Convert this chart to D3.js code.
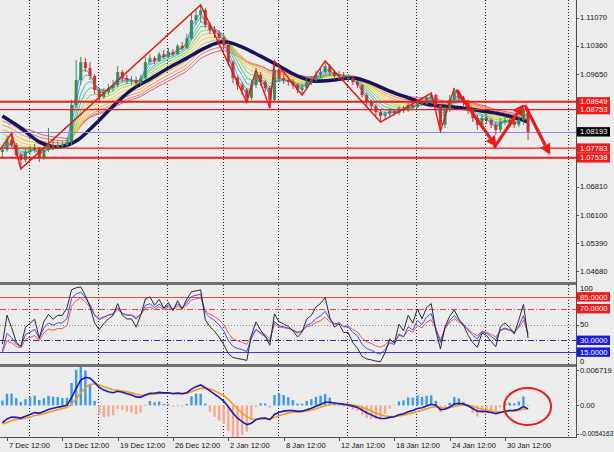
<!DOCTYPE html>
<html><head><meta charset="utf-8">
<script src="https://cdn.jsdelivr.net/npm/d3@7"></script>
<style>
body{margin:0;background:#ececec;}
svg{display:block;font-family:"Liberation Sans",Arial,sans-serif;}
</style>
</head><body>
<svg id="c" width="614" height="452"></svg>
<script>
// ---------------- DATA (8-hour candles, EURUSD, 7 Dec - 1 Feb) ----------------
const priorCloses = [1.0980,1.0990,1.0970,1.0960,1.0930,1.0890,1.0880,1.0870,1.0885,1.0865,1.0845,1.0835,1.0820,1.0800,1.0795,1.0790,1.0775,1.0765,1.0769];
const firstOpen = 1.0769;
const closes = [1.0774,1.0799,1.0786,1.0761,1.0748,1.0769,1.0774,1.0779,1.0753,1.0774,
1.0786,1.0781,1.0786,1.0786,1.0794,1.0887,1.0950,1.0995,1.0980,1.0960,
1.0925,1.0907,1.0920,1.0930,1.0937,1.0970,1.0955,1.0950,1.0950,1.0942,
1.0955,1.0995,1.1005,1.0998,1.1015,1.1008,1.1021,1.1015,1.1036,1.1030,
1.1055,1.1101,1.1114,1.1126,1.1089,1.1076,1.1068,1.1056,1.1038,1.0995,
1.0955,1.0937,1.0925,1.0905,1.0937,1.0963,1.0945,1.0930,1.0900,1.0975,
1.0955,1.0950,1.0945,1.0937,1.0925,1.0930,1.0945,1.0950,1.0963,1.0970,
1.0985,1.0970,1.0960,1.0963,1.0955,1.0955,1.0945,1.0937,1.0912,1.0894,
1.0884,1.0869,1.0859,1.0864,1.0872,1.0866,1.0879,1.0873,1.0887,1.0881,
1.0897,1.0890,1.0905,1.0912,1.0887,1.0837,1.0874,1.0900,1.0920,1.0905,
1.0894,1.0874,1.0854,1.0837,1.0854,1.0849,1.0837,1.0824,1.0844,1.0849,
1.0844,1.0837,1.0849,1.0874,1.0819];
const highs = [1.0786,1.0809,1.0816,1.0791,1.0766,1.0776,1.0784,1.0789,1.0781,1.0779,
1.0829,1.0799,1.0796,1.0796,1.0804,1.0900,1.1000,1.1008,1.1005,1.0995,
1.0965,1.0930,1.0930,1.0940,1.0950,1.0985,1.0975,1.0963,1.0960,1.0958,
1.0963,1.1008,1.1015,1.1010,1.1021,1.1026,1.1031,1.1028,1.1041,1.1046,
1.1066,1.1119,1.1126,1.1139,1.1131,1.1096,1.1086,1.1076,1.1063,1.1046,
1.1000,1.0960,1.0945,1.0930,1.0950,1.0975,1.0970,1.0950,1.0935,1.0998,
1.0980,1.0965,1.0958,1.0952,1.0942,1.0940,1.0955,1.0960,1.0973,1.0980,
1.0998,1.0990,1.0975,1.0973,1.0970,1.0965,1.0960,1.0950,1.0940,1.0917,
1.0900,1.0889,1.0874,1.0872,1.0879,1.0877,1.0884,1.0884,1.0892,1.0894,
1.0902,1.0902,1.0910,1.0917,1.0915,1.0889,1.0884,1.0912,1.0930,1.0925,
1.0910,1.0900,1.0879,1.0862,1.0864,1.0862,1.0854,1.0844,1.0854,1.0859,
1.0857,1.0852,1.0859,1.0887,1.0879];
const lows = [1.0756,1.0769,1.0781,1.0753,1.0726,1.0743,1.0761,1.0766,1.0743,1.0748,
1.0769,1.0774,1.0776,1.0779,1.0781,1.0786,1.0879,1.0937,1.0970,1.0950,
1.0915,1.0894,1.0902,1.0912,1.0922,1.0932,1.0945,1.0940,1.0937,1.0932,
1.0935,1.0950,1.0988,1.0990,1.0995,1.1003,1.1005,1.1010,1.1012,1.1026,
1.1028,1.1050,1.1089,1.1096,1.1081,1.1066,1.1056,1.1046,1.1026,1.0985,
1.0942,1.0925,1.0912,1.0894,1.0900,1.0930,1.0935,1.0920,1.0879,1.0894,
1.0945,1.0940,1.0935,1.0927,1.0917,1.0912,1.0925,1.0937,1.0945,1.0955,
1.0965,1.0960,1.0950,1.0950,1.0947,1.0945,1.0937,1.0930,1.0905,1.0884,
1.0874,1.0859,1.0844,1.0852,1.0859,1.0860,1.0862,1.0867,1.0870,1.0876,
1.0879,1.0885,1.0887,1.0897,1.0874,1.0821,1.0829,1.0869,1.0894,1.0894,
1.0884,1.0864,1.0844,1.0824,1.0831,1.0839,1.0829,1.0811,1.0819,1.0837,
1.0834,1.0829,1.0831,1.0837,1.0799];
// thick dark moving average: [candle index, price]
const slowMA = [[0,1.0859],[4,1.0829],[8,1.0794],[12,1.0781],[16,1.0796],[20,1.0837],[24,1.0884],[28,1.0925],[32,1.0952],[36,1.0980],[40,1.1005],[44,1.1031],[48,1.1046],[52,1.1033],[56,1.1010],[60,1.0985],[64,1.0960],[68,1.0947],[72,1.0950],[76,1.0955],[80,1.0942],[84,1.0922],[88,1.0905],[92,1.0889],[96,1.0884],[100,1.0879],[104,1.0872],[108,1.0864],[112,1.0852],[114,1.0844]];
const rainbowPeriods = [2,3,4.5,6,8,10,12.5,15,18,21,24];
const macdParams = [6,13,5];
const oscPeriods = [4,7,10];
// drawn objects
const zigzag = [[-0.5,1.0774],[2,1.0816],[4,1.0726],[43,1.1139],[53,1.0894],[55,1.0975],[58,1.0879],[59,1.0998],[65,1.0912],[70,1.0998],[82,1.0844],[93,1.0917],[95,1.0821],[98,1.0930]];
const arrowsData = [[[98.4,1.0925],[107.2,1.0781]],[[106.6,1.0779],[113,1.0889]],[[113.3,1.0887],[118.8,1.0761]]];
const redLevels = [1.08949,1.08753,1.07783,1.07538];
const bidPrice = 1.08193;
const ellipseAt = [113.9,-0.0002];
// axes
const priceTicks = [1.11070,1.10360,1.09650,1.06810,1.06100,1.05390,1.04680];
const dateLabels = ["7 Dec 12:00","13 Dec 12:00","19 Dec 12:00","26 Dec 12:00","2 Jan 12:00","8 Jan 12:00","12 Jan 12:00","18 Jan 12:00","24 Jan 12:00","30 Jan 12:00"];
const dateTicksH4 = [0,24,48,72,96,120,144,168,192,216];
const weekSepH4 = [9.5,39.5,69.5,93.5,117.5,147.5,177.5,207.5,243.5];
const oscLevels = [85,70,50,30,15];
const macdTicks = [0.006719,0,-0.0054163];
const macdTickText = ["0.006719","0.00","-0.0054163"];

// ---------------- LAYOUT ----------------
const svg = d3.select('#c');
const PR = 576;
const mainB = 282, oscT = 285, oscB = 364, macT = 367, macB = 437;
const xH = d3.scaleLinear().domain([0,216]).range([7, 7+216*2.3056]);
const xC = j => xH(2*j-2);
const yP = d3.scaleLinear().domain([1.04409,1.11515]).range([mainB,0]);
const yO = d3.scaleLinear().domain([0,100]).range([364,285]);
const yM = d3.scaleLinear().domain([-0.0054163,0.006719]).range([434,370]);

svg.append('rect').attr('width',614).attr('height',452).attr('fill','#ececec');
const defs = svg.append('defs');
function clip(id,y0,y1){defs.append('clipPath').attr('id',id).append('rect').attr('x',0).attr('y',y0).attr('width',PR).attr('height',y1-y0);}
clip('cm',0,mainB); clip('co',oscT,oscB); clip('cd',macT,macB);

// ---------------- indicator math ----------------
const all = priorCloses.concat(closes);
const off = priorCloses.length;
function ema(arr,n){const a=2/(n+1);let e=arr[0];return arr.map((v,i)=>{e=i?e+a*(v-e):v;return e;});}
function rsi(arr,n){let ag=0,al=0;return arr.map((v,i)=>{if(!i)return 50;const d=v-arr[i-1],g=Math.max(d,0),l=Math.max(-d,0);
 if(i<=n){ag+=g/n;al+=l/n;}else{ag=(ag*(n-1)+g)/n;al=(al*(n-1)+l)/n;} return al===0?100:100-100/(1+ag/al);});}

// ---------------- grid (week separators) ----------------
const grid = svg.append('g');
weekSepH4.forEach(h=>{grid.append('line').attr('x1',Math.round(xH(h))+0.5).attr('x2',Math.round(xH(h))+0.5).attr('y1',0).attr('y2',macB)
 .attr('stroke','#222').attr('stroke-dasharray','1,2').attr('stroke-width',1);});

// ---------------- main panel ----------------
const gm = svg.append('g').attr('clip-path','url(#cm)');
const rainbowColors = ['#6f86e6','#52aee8','#3cc4c4','#4ec77e','#8ad252','#c4d83e','#f0cf3c','#f6b13e','#f69352','#ee7468','#e05a7a'];
const lineP = d3.line().x(d=>xC(d[0])).y(d=>yP(d[1]));
for(let k=rainbowPeriods.length-1;k>=0;k--){
  const e = ema(all,rainbowPeriods[k]).slice(off).map((v,j)=>[j,v]);
  gm.append('path').attr('d',lineP(e)).attr('fill','none').attr('stroke',rainbowColors[k]).attr('stroke-width',1);
}
gm.append('path').attr('d',lineP.curve(d3.curveMonotoneX)(slowMA)).attr('fill','none').attr('stroke','#14145e').attr('stroke-width',3.5);
lineP.curve(d3.curveLinear);
// candles
closes.forEach((c,j)=>{
  const o = j?closes[j-1]:firstOpen, x=xC(j);
  const up = c>=o;
  gm.append('line').attr('x1',x).attr('x2',x).attr('y1',yP(highs[j])).attr('y2',yP(lows[j])).attr('stroke',up?'#3c8c5a':'#c0392b').attr('stroke-width',1);
  const y0=yP(Math.max(o,c)), y1=yP(Math.min(o,c));
  gm.append('rect').attr('x',x-1.5).attr('y',y0).attr('width',3).attr('height',Math.max(1,y1-y0)).attr('fill',up?'#3c8c5a':'#c0392b');
});
// levels
redLevels.forEach((p,i)=>{gm.append('line').attr('x1',0).attr('x2',PR).attr('y1',yP(p)).attr('y2',yP(p)).attr('stroke','#ee1c1c').attr('stroke-width',(i===0||i===3)?2:1.2);});
gm.append('line').attr('x1',0).attr('x2',PR).attr('y1',Math.round(yP(bidPrice))+0.5).attr('y2',Math.round(yP(bidPrice))+0.5).attr('stroke','#8a8ae6').attr('stroke-width',1);
// zigzag
gm.append('path').attr('d',lineP(zigzag)).attr('fill','none').attr('stroke','#e01818').attr('stroke-width',1.4);
// arrows
arrowsData.forEach(a=>{
  const x1=xC(a[0][0]),y1=yP(a[0][1]),x2=xC(a[1][0]),y2=yP(a[1][1]);
  const ang=Math.atan2(y2-y1,x2-x1), L=11, Wd=5.5;
  const bx=x2-L*Math.cos(ang), by=y2-L*Math.sin(ang);
  gm.append('line').attr('x1',x1).attr('y1',y1).attr('x2',bx).attr('y2',by).attr('stroke','#e81c1c').attr('stroke-width',3.2);
  gm.append('path').attr('d',`M${x2},${y2}L${bx+Wd*Math.sin(ang)},${by-Wd*Math.cos(ang)}L${bx-Wd*Math.sin(ang)},${by+Wd*Math.cos(ang)}Z`).attr('fill','#e81c1c');
});

// ---------------- oscillator panel ----------------
const go = svg.append('g').attr('clip-path','url(#co)');
const lvlStyle = {85:['#e04848',null],70:['#e04848','6,2,1,2'],50:['#888','1,2'],30:['#30309a','6,2,1,2'],15:['#3a3ae0',null]};
oscLevels.forEach(v=>{const s=lvlStyle[v];const l=go.append('line').attr('x1',0).attr('x2',PR).attr('y1',Math.round(yO(v))+0.5).attr('y2',Math.round(yO(v))+0.5).attr('stroke',s[0]).attr('stroke-width',1);if(s[1])l.attr('stroke-dasharray',s[1]);});
const lineO = d3.line().x((d,j)=>xC(j)).y(d=>yO(d));
const oscColors=['#e85a5a','#4a4ae8','#2a2a2a'];
[2,1,0].forEach(k=>{const r=rsi(all,oscPeriods[k]).slice(off);go.append('path').attr('d',lineO(r)).attr('fill','none').attr('stroke',oscColors[2-k]).attr('stroke-width',1);});

// ---------------- MACD panel ----------------
const gd = svg.append('g').attr('clip-path','url(#cd)');
const ef=ema(all,macdParams[0]), es=ema(all,macdParams[1]);
const macdAll = ef.map((v,i)=>v-es[i]);
const sigAll = ema(macdAll,macdParams[2]);
const macd = macdAll.slice(off), sig = sigAll.slice(off);
const histScale = 3.4;
macd.forEach((m,j)=>{const h=(m-sig[j])*histScale;const y0=yM(0),y1=yM(h);
 gd.append('rect').attr('x',xC(j)-1.2).attr('width',2.4).attr('y',Math.min(y0,y1)).attr('height',Math.abs(y1-y0)).attr('fill',h>=0?'#3d9ae8':'#f6a98a');});
const lineM = d3.line().x((d,j)=>xC(j)).y(d=>yM(d));
gd.append('path').attr('d',lineM(sig)).attr('fill','none').attr('stroke','#f39a1e').attr('stroke-width',1.6);
gd.append('path').attr('d',lineM(macd)).attr('fill','none').attr('stroke','#1a1ab4').attr('stroke-width',1.6);
gd.append('ellipse').attr('cx',xC(ellipseAt[0])).attr('cy',yM(ellipseAt[1])).attr('rx',23.5).attr('ry',18.5).attr('fill','none').attr('stroke','#e81c1c').attr('stroke-width',2);

// ---------------- frames ----------------
svg.append('rect').attr('x',0).attr('y',mainB).attr('width',PR+1).attr('height',3).attr('fill','#707070');
svg.append('rect').attr('x',0).attr('y',oscB).attr('width',PR+1).attr('height',3).attr('fill','#707070');
svg.append('line').attr('x1',PR+0.5).attr('x2',PR+0.5).attr('y1',0).attr('y2',macB+1).attr('stroke','#505050');
svg.append('line').attr('x1',0).attr('x2',PR+1).attr('y1',macB+0.5).attr('y2',macB+0.5).attr('stroke','#505050');

// ---------------- axis labels ----------------
const fs = 7.6;
function axisText(y,t,fill,bg,fit){
  svg.append('line').attr('x1',PR).attr('x2',PR+3).attr('y1',Math.round(y)+0.5).attr('y2',Math.round(y)+0.5).attr('stroke','#505050');
  if(bg) svg.append('rect').attr('x',PR+1).attr('y',y-4.7).attr('width',33).attr('height',9.4).attr('fill',bg);
  const tx=svg.append('text').attr('x',PR+4).attr('y',y).attr('dy','0.35em').attr('font-size',fit?6.6:fs).attr('fill',fill).text(t);
}
priceTicks.forEach(p=>axisText(yP(p),p.toFixed(5),'#111'));
redLevels.forEach(p=>axisText(yP(p),p.toFixed(5),'#fff','#f01a1a'));
axisText(yP(bidPrice),bidPrice.toFixed(5),'#fff','#000');
svg.append('text').attr('x',PR+4).attr('y',yO(100)+3).attr('dy','0.35em').attr('font-size',fs).text('100');
svg.append('text').attr('x',PR+4).attr('y',yO(0)-3).attr('dy','0.35em').attr('font-size',fs).text('0');
oscLevels.forEach(v=>{
  if(v===50) axisText(yO(v),'50','#111');
  else axisText(yO(v),v.toFixed(4),'#fff',v>50?'#f01a1a':'#1a1ae8');
});
macdTicks.forEach((v,i)=>axisText(yM(v),macdTickText[i],'#111',null,i===2));
dateTicksH4.forEach((h,i)=>{
  const x=Math.round(xH(h))+0.5;
  svg.append('line').attr('x1',x).attr('x2',x).attr('y1',macB+1).attr('y2',macB+4).attr('stroke','#505050');
  svg.append('text').attr('x',x+1.5).attr('y',448).attr('font-size',fs).attr('fill','#111').text(dateLabels[i]);
});
</script>
</body></html>
